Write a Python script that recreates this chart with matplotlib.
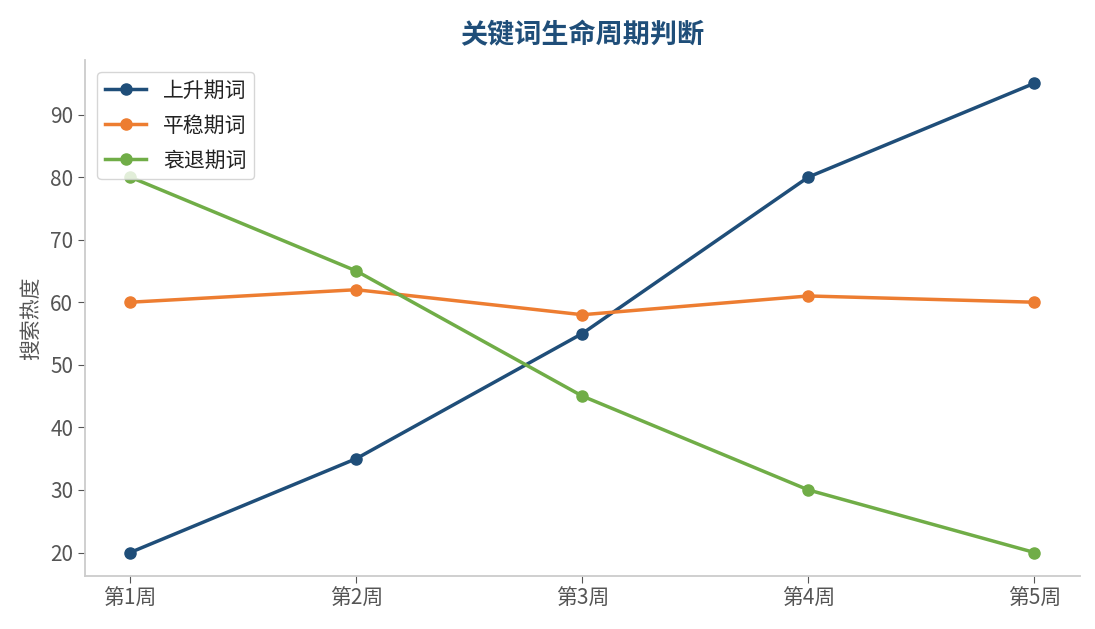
import matplotlib
matplotlib.use("Agg")
import matplotlib.pyplot as plt

plt.rcParams['font.family'] = ['Noto Sans CJK SC', 'DejaVu Sans']
plt.rcParams['axes.unicode_minus'] = False

weeks = ["第1周", "第2周", "第3周", "第4周", "第5周"]
rising = [20, 35, 55, 80, 95]
stable = [60, 62, 58, 61, 60]
declining = [80, 65, 45, 30, 20]

series = [
    ("上升期词", rising, "#1f4e79"),
    ("平稳期词", stable, "#ed7d31"),
    ("衰退期词", declining, "#70ad47"),
]

fig = plt.figure(figsize=(10.95, 6.29), dpi=100)
ax = fig.add_axes([0.0776, 0.0843, 0.9084, 0.8207])

x = list(range(len(weeks)))
for label, vals, color in series:
    ax.plot(x, vals, "-o", color=color, linewidth=2.5, markersize=8, label=label)

ax.set_xticks(x)
ax.set_xticklabels(weeks)
ax.set_ylabel("搜索热度", fontsize=15, color="#555555", labelpad=6)
ax.set_title("关键词生命周期判断", fontsize=19.5, fontweight="bold", color="#1f4e79", pad=12)

for side in ("top", "right"):
    ax.spines[side].set_visible(False)
for side in ("left", "bottom"):
    ax.spines[side].set_color("#cccccc")
    ax.spines[side].set_linewidth(1.3)
ax.tick_params(axis="both", labelsize=15, colors="#555555", length=5)

leg = ax.legend(loc="upper left", fontsize=15, frameon=True,
                handlelength=2.0, borderaxespad=0.6, labelspacing=0.62,
                borderpad=0.35)
leg.get_frame().set_edgecolor("#cccccc")
for t in leg.get_texts():
    t.set_color("#222222")

fig.savefig("out.png", dpi=100)
